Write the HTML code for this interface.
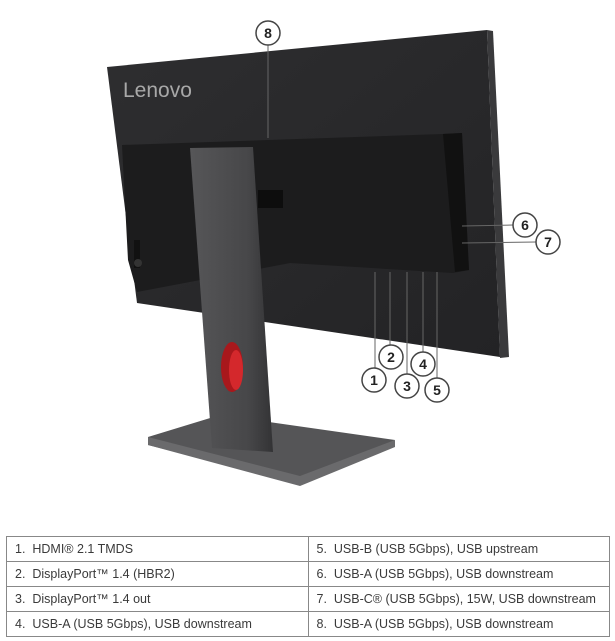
<!DOCTYPE html>
<html><head><style>
body{margin:0;width:615px;height:641px;background:#fff;overflow:hidden;font-family:"Liberation Sans",sans-serif}
table{position:absolute;left:6px;top:536px;width:604px;border-collapse:collapse;font-size:12.5px;color:#3a3a3a}
td{border:1px solid #888;height:24px;padding:0 0 0 8px;width:50%;white-space:nowrap}
</style></head><body>
<svg width="615" height="530" style="position:absolute;left:0;top:0">
<defs>
<linearGradient id="pan" x1="0" y1="0" x2="1" y2="1"><stop offset="0" stop-color="#2e2e30"/><stop offset="1" stop-color="#232325"/></linearGradient>
<linearGradient id="neck" x1="0" y1="0" x2="1" y2="0"><stop offset="0" stop-color="#565658"/><stop offset="0.7" stop-color="#474749"/><stop offset="1" stop-color="#333335"/></linearGradient>
</defs>
<polygon points="107,67 487,30 500,357 137,303" fill="url(#pan)"/>
<polygon points="487,30 493,31 509,357 500,358" fill="#3a3a3c"/>
<text x="123" y="97" font-size="21" fill="#a8a8a8" font-family="Liberation Sans">Lenovo</text>
<polygon points="122,145 443,134 462,133 469,270 453,273 290,263 137,292 128,260" fill="#1c1c1d"/>
<polygon points="443,134 462,133 469,270 455,272" fill="#111"/>
<rect x="134" y="240" width="6" height="28" fill="#111"/>
<circle cx="138" cy="263" r="4" fill="#333"/>
<rect x="258" y="190" width="25" height="18" fill="#0d0d0d"/>
<polygon points="148,437 220,415 395,440 300,483 148,445" fill="#555557"/>
<polygon points="148,437 300,476 395,440 395,447 300,486 148,445" fill="#6a6a6c"/>
<polygon points="190,148 253,147 273,452 212,448" fill="url(#neck)"/>
<ellipse cx="232" cy="367" rx="11" ry="25" fill="#a8181c"/>
<ellipse cx="236" cy="370" rx="7" ry="20" fill="#d4282c"/>
<g stroke="#666" stroke-width="1" fill="none">
<line x1="268" y1="45" x2="268" y2="138"/>
<line x1="375" y1="272" x2="375" y2="368"/>
<line x1="390" y1="272" x2="390" y2="345"/>
<line x1="407" y1="272" x2="407" y2="374"/>
<line x1="423" y1="272" x2="423" y2="352"/>
<line x1="437" y1="272" x2="437" y2="378"/>
<line x1="462" y1="226" x2="513" y2="225"/>
<line x1="462" y1="243" x2="536" y2="242"/>
</g>
<g fill="#fff" stroke="#444" stroke-width="1.5">
<circle cx="268" cy="33" r="12"/><circle cx="525" cy="225" r="12"/><circle cx="548" cy="242" r="12"/>
<circle cx="391" cy="357" r="12"/><circle cx="423" cy="364" r="12"/><circle cx="374" cy="380" r="12"/>
<circle cx="407" cy="386" r="12"/><circle cx="437" cy="390" r="12"/>
</g>
<g font-size="14" font-weight="bold" fill="#222" text-anchor="middle" font-family="Liberation Sans">
<text x="268" y="38">8</text><text x="525" y="230">6</text><text x="548" y="247">7</text>
<text x="391" y="362">2</text><text x="423" y="369">4</text><text x="374" y="385">1</text>
<text x="407" y="391">3</text><text x="437" y="395">5</text>
</g>
</svg>
<table>
<tr><td>1.&nbsp;&nbsp;HDMI® 2.1 TMDS</td><td>5.&nbsp;&nbsp;USB-B (USB 5Gbps), USB upstream</td></tr>
<tr><td>2.&nbsp;&nbsp;DisplayPort™ 1.4 (HBR2)</td><td>6.&nbsp;&nbsp;USB-A (USB 5Gbps), USB downstream</td></tr>
<tr><td>3.&nbsp;&nbsp;DisplayPort™ 1.4 out</td><td>7.&nbsp;&nbsp;USB-C® (USB 5Gbps), 15W, USB downstream</td></tr>
<tr><td>4.&nbsp;&nbsp;USB-A (USB 5Gbps), USB downstream</td><td>8.&nbsp;&nbsp;USB-A (USB 5Gbps), USB downstream</td></tr>
</table>
</body></html>
